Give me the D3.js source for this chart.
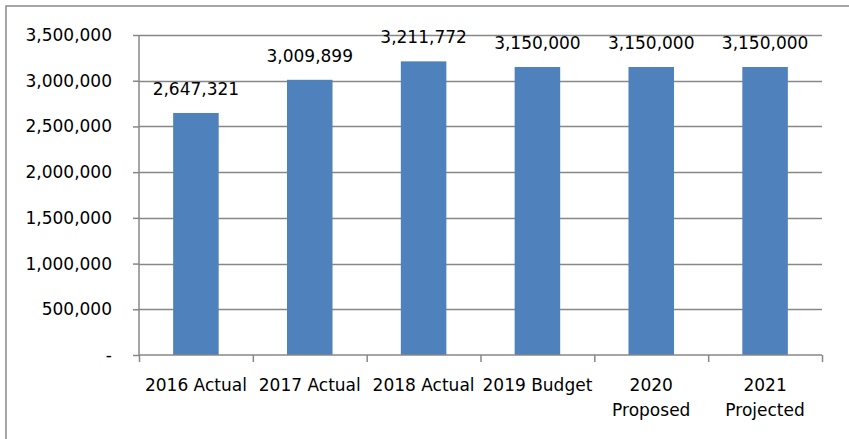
<!DOCTYPE html>
<html>
<head>
<meta charset="utf-8">
<script src="https://cdn.jsdelivr.net/npm/d3@7"></script>
<style>
  html, body { margin: 0; padding: 0; background: #fff; }
  svg { display: block; }
  text { font-family: "DejaVu Sans", sans-serif; font-size: 17px; fill: #000; }
</style>
</head>
<body>
<svg id="chart" width="849" height="439"></svg>
<script>
// Revenue by year
const categories = [["2016 Actual"], ["2017 Actual"], ["2018 Actual"], ["2019 Budget"], ["2020", "Proposed"], ["2021", "Projected"]];
const values = [2647321, 3009899, 3211772, 3150000, 3150000, 3150000];
const yTicks = [0, 500000, 1000000, 1500000, 2000000, 2500000, 3000000, 3500000];

const svg = d3.select("#chart");
const W = 849, H = 439;
const plot = { left: 139, right: 822, top: 35, bottom: 355 };

// outer frame (runs off the right and bottom edges)
svg.append("rect")
  .attr("x", 6).attr("y", 6)
  .attr("width", W).attr("height", H)
  .attr("fill", "none").attr("stroke", "#898989").attr("stroke-width", 1.5);

const keys = categories.map(c => c.join(" "));
const x = d3.scaleBand().domain(keys).range([plot.left, plot.right])
  .paddingInner(0.6).paddingOuter(0.3);
const y = d3.scaleLinear().domain([0, 3500000]).range([plot.bottom, plot.top]);
const xEdge = d3.scaleLinear().domain([0, categories.length]).range([plot.left, plot.right]);

const grid = "#878787";

// horizontal gridlines
svg.append("g").selectAll("line").data(yTicks.slice(1)).join("line")
  .attr("x1", plot.left).attr("x2", plot.right)
  .attr("y1", d => Math.round(y(d)) + 0.5).attr("y2", d => Math.round(y(d)) + 0.5)
  .attr("stroke", grid).attr("stroke-width", 1.5);

// bars
svg.append("g").selectAll("rect").data(values).join("rect")
  .attr("x", (d, i) => x(keys[i]))
  .attr("width", x.bandwidth())
  .attr("y", d => y(d))
  .attr("height", d => y(0) - y(d))
  .attr("fill", "#4F81BD");

// y axis
const yAxis = svg.append("g")
  .attr("transform", `translate(${plot.left},0)`)
  .call(d3.axisLeft(y).tickValues(yTicks).tickSize(6).tickPadding(21)
    .tickFormat(d => d === 0 ? "-" : d3.format(",")(d)));
yAxis.select(".domain").attr("stroke", grid).attr("stroke-width", 1.5).attr("d", `M0,${plot.top}V${plot.bottom}`);
yAxis.selectAll(".tick line").attr("stroke", grid).attr("stroke-width", 1.5);
yAxis.selectAll(".tick text").style("font-family", "DejaVu Sans").style("font-size", "17px").attr("fill", "#000");

// x axis with ticks at category boundaries
const xAxis = svg.append("g")
  .attr("transform", `translate(0,${plot.bottom})`)
  .call(d3.axisBottom(xEdge).tickValues(d3.range(categories.length + 1)).tickSize(7).tickFormat(""));
xAxis.select(".domain").attr("stroke", grid).attr("stroke-width", 1.5).attr("d", `M${plot.left},0H${plot.right}`);
xAxis.selectAll(".tick line").attr("stroke", grid).attr("stroke-width", 1.5);

// category labels
svg.append("g").selectAll("text").data(categories).join("text")
  .attr("text-anchor", "middle")
  .attr("x", (d, i) => x(keys[i]) + x.bandwidth() / 2)
  .attr("y", 391)
  .selectAll("tspan").data(d => d).join("tspan")
  .attr("x", function () { return this.parentNode.getAttribute("x"); })
  .attr("dy", (d, j) => j === 0 ? 0 : 25)
  .text(d => d);

// value labels
svg.append("g").selectAll("text").data(values).join("text")
  .attr("text-anchor", "middle")
  .attr("x", (d, i) => x(keys[i]) + x.bandwidth() / 2)
  .attr("y", d => y(d) - 18)
  .text(d => d3.format(",")(d));
</script>
</body>
</html>
